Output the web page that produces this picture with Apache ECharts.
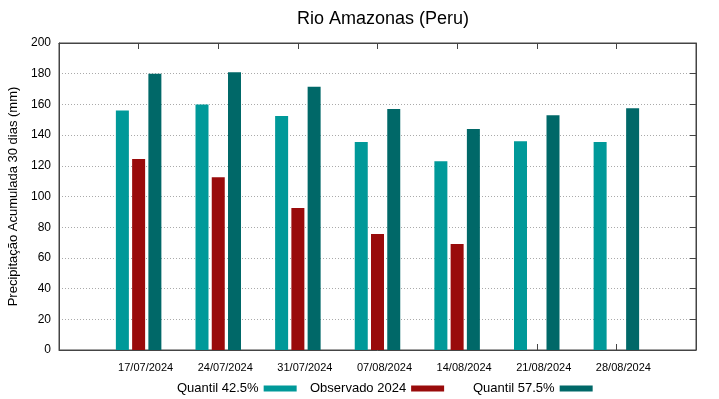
<!DOCTYPE html>
<html>
<head>
<meta charset="utf-8">
<script src="https://cdn.jsdelivr.net/npm/echarts@6/dist/echarts.min.js"></script>
<style>
  html, body { margin: 0; padding: 0; background: #fff; }
  #chart { width: 719px; height: 399px; }
</style>
</head>
<body>
<div id="chart"></div>
<script>
// datas (empty slot at each end, like the gnuplot x range 0..8)
const dates = ['', '17/07/2024', '24/07/2024', '31/07/2024', '07/08/2024', '14/08/2024', '21/08/2024', '28/08/2024', '']
const q425 = [null, 156, 160, 152.5, 135.5, 123, 136, 135.5, null]
const obs2024 = [null, 124.5, 112.5, 92.5, 75.5, 69, null, null, null]
const q575 = [null, 180, 181, 171.5, 157, 144, 153, 157.5, null]

const font = 'Liberation Sans, Arial, sans-serif'
const axisColor = '#444'
const chart = echarts.init(document.getElementById('chart'))

function legendAt(name, left) {
  return {
    data: [name],
    left: left,
    top: 382,
    align: 'right',
    icon: 'rect',
    itemWidth: 33,
    itemHeight: 6,
    padding: 0,
    textStyle: { fontFamily: font, fontSize: 13, color: '#000' }
  }
}

chart.setOption({
  backgroundColor: '#fff',
  animation: false,
  title: {
    text: 'Rio Amazonas (Peru)',
    left: 378,
    textAlign: 'center',
    top: 5,
    textStyle: { fontFamily: font, fontSize: 18, fontWeight: 'normal', color: '#000' }
  },
  legend: [
    legendAt('Quantil 42.5%', 177),
    legendAt('Observado 2024', 310),
    legendAt('Quantil 57.5%', 473)
  ],
  grid: {
    left: 59,
    right: 23,
    top: 43,
    bottom: 49,
    containLabel: false,
    outerBoundsMode: 'none',
    show: true,
    borderColor: axisColor,
    borderWidth: 1
  },
  xAxis: [
    {
      type: 'category',
      data: dates,
      boundaryGap: false,
      axisLine: { onZero: false, lineStyle: { color: axisColor } },
      axisTick: { show: true, inside: true, length: 6, interval: 0, lineStyle: { color: axisColor } },
      axisLabel: {
        fontFamily: font,
        fontSize: 11,
        color: '#000',
        margin: 12,
        interval: 0,
        padding: [0, 0, 0, 14]
      },
      splitLine: { show: false }
    },
    {
      type: 'category',
      data: dates,
      position: 'top',
      boundaryGap: false,
      axisLine: { onZero: false, lineStyle: { color: axisColor } },
      axisTick: { show: true, inside: true, length: 6, interval: 0, lineStyle: { color: axisColor } },
      axisLabel: { show: false }
    }
  ],
  yAxis: [
    {
      type: 'value',
      min: 0,
      max: 200,
      interval: 20,
      name: 'Precipitação Acumulada 30 dias (mm)',
      nameLocation: 'middle',
      nameGap: 33,
      nameTextStyle: { fontFamily: font, fontSize: 13, color: '#000' },
      axisLine: { show: true, onZero: false, lineStyle: { color: axisColor } },
      axisTick: { show: false },
      axisLabel: { fontFamily: font, fontSize: 12, color: '#000', margin: 8 },
      splitLine: { show: true, lineStyle: { color: '#aaa', type: [1, 2], width: 1 } }
    },
    {
      type: 'value',
      min: 0,
      max: 200,
      interval: 20,
      position: 'right',
      axisLine: { show: true, onZero: false, lineStyle: { color: axisColor } },
      axisTick: { show: true, inside: true, length: 6, lineStyle: { color: axisColor } },
      axisLabel: { show: false },
      splitLine: { show: false }
    }
  ],
  series: [
    {
      name: 'Quantil 42.5%',
      type: 'bar',
      data: q425,
      barWidth: 13,
      barGap: '25%',
      itemStyle: { color: '#009999' }
    },
    {
      name: 'Observado 2024',
      type: 'bar',
      data: obs2024,
      barWidth: 13,
      barGap: '25%',
      itemStyle: { color: '#990b0b' }
    },
    {
      name: 'Quantil 57.5%',
      type: 'bar',
      data: q575,
      barWidth: 13,
      barGap: '25%',
      itemStyle: { color: '#006868' }
    }
  ]
})
</script>
</body>
</html>
